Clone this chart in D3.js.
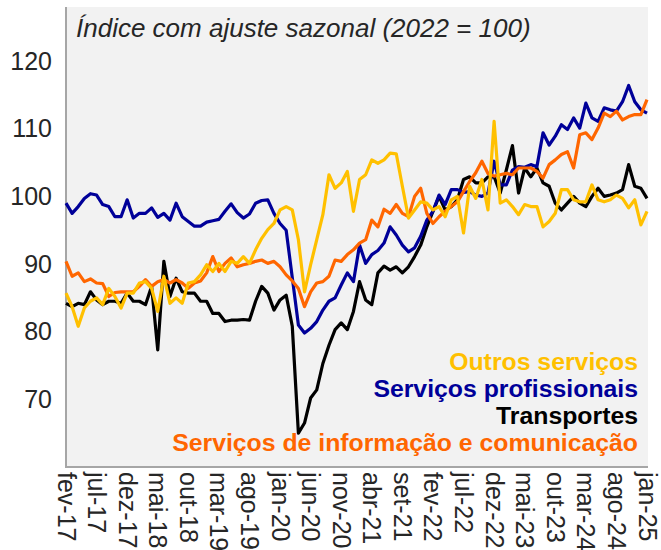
<!DOCTYPE html>
<html>
<head>
<meta charset="utf-8">
<script src="https://cdn.jsdelivr.net/npm/d3@7"></script>
<style>
  html, body { margin: 0; padding: 0; background: #ffffff; }
  svg { display: block; font-family: "Liberation Sans", Arial, sans-serif; }
</style>
</head>
<body>
<svg id="chart" width="661" height="550"></svg>
<script>
// ---- Data (monthly, fev-2017 .. jan-2025) ----
const tickLabels = ["fev-17","jul-17","dez-17","mai-18","out-18","mar-19","ago-19","jan-20","jun-20","nov-20",
                    "abr-21","set-21","fev-22","jul-22","dez-22","mai-23","out-23","mar-24","ago-24","jan-25"];
const yTicks = [70, 80, 90, 100, 110, 120];

const seriesNames = ["Outros serviços", "Serviços profissionais", "Transportes", "Serviços de informação e comunicação"];

const outros = [85.7,83.7,80.8,83.5,84.5,85.0,84.0,86.4,85.2,83.5,85.7,85.7,87.2,87.4,86.4,83.0,88.2,84.2,85.0,84.2,
  87.2,87.4,88.4,89.9,88.9,90.1,88.9,90.4,90.1,91.1,90.1,92.1,93.8,95.1,96.0,98.0,98.5,98.0,93.6,85.9,
  89.9,93.6,97.3,103.2,101.2,102.0,103.7,97.8,102.5,103.2,105.4,104.9,105.4,106.4,106.3,101.5,96.8,98.0,99.2,99.0,
  98.0,98.5,97.0,99.5,100.0,94.6,101.5,99.7,102.5,98.0,111.1,99.0,99.5,98.5,97.3,98.8,98.5,98.5,95.5,96.3,
  97.5,101.0,101.0,99.5,99.2,99.2,101.7,99.5,99.2,99.5,100.2,99.7,98.3,99.5,95.8,97.8];

const profissionais = [99.0,97.5,98.5,99.7,100.4,100.2,98.8,98.5,97.0,97.0,99.5,96.8,97.5,97.5,98.3,96.9,97.5,96.5,99.0,97.0,
  96.3,95.6,95.6,96.2,96.4,96.6,97.8,98.9,97.6,96.8,97.4,99.0,99.4,99.5,97.5,96.0,95.0,88.0,81.0,79.8,
  80.5,81.5,83.2,84.5,85.0,86.9,88.7,87.4,92.8,90.1,91.4,92.0,93.1,95.5,94.3,92.8,91.8,92.4,94.1,96.5,
  97.8,100.2,98.8,101.0,101.0,100.6,100.7,100.2,100.0,100.5,105.2,101.7,101.7,103.9,104.4,104.3,104.7,104.4,109.4,107.6,
  108.9,110.6,109.9,111.6,110.1,113.8,111.6,111.1,113.1,112.8,112.6,114.0,116.4,114.0,112.8,112.3];

const transportes = [84.2,83.7,84.2,84.0,85.9,84.7,84.0,84.5,84.5,84.2,85.7,84.5,84.5,84.0,86.7,77.3,90.4,85.2,87.9,85.9,
  85.7,85.7,84.5,84.5,82.7,82.7,81.5,81.7,81.7,81.8,81.7,84.5,86.7,85.7,83.2,84.7,85.4,80.8,65.0,66.5,
  70.2,71.4,75.3,78.0,80.3,81.3,80.3,83.0,87.4,84.7,84.0,88.7,89.7,89.1,89.6,88.7,89.6,91.1,92.8,95.5,
  97.8,100.0,98.0,98.5,99.5,102.5,102.9,102.0,102.0,102.9,102.9,100.5,103.9,107.5,100.5,104.2,102.9,104.2,102.0,101.5,
  99.0,98.0,99.0,100.0,99.0,98.5,100.0,101.2,100.0,100.2,100.5,101.0,104.7,101.5,101.2,99.7];

const informacao = [90.4,88.2,88.7,87.4,87.8,87.2,87.1,85.2,85.8,85.9,85.9,85.9,86.7,87.7,86.7,87.4,87.7,87.2,87.7,87.2,
  86.4,87.2,87.5,88.7,91.1,88.9,90.1,90.9,89.6,89.9,90.1,90.4,90.6,90.1,90.4,89.6,88.4,87.5,86.4,83.7,
  85.9,87.2,87.4,88.2,90.6,90.4,91.4,92.1,93.1,93.6,96.5,95.5,98.1,97.5,98.8,97.5,97.0,100.0,101.2,97.5,
  96.0,97.0,97.8,98.5,99.2,100.7,102.2,103.5,105.2,103.4,103.0,103.2,103.4,103.2,104.2,104.2,104.2,103.7,102.7,104.7,
  105.4,106.2,106.6,104.2,109.1,109.4,108.4,110.1,112.3,111.8,112.6,111.3,111.8,112.1,112.1,114.3];

const seriesColors = ["#FFC000", "#000099", "#000000", "#FF6600"];

// ---- Layout ----
const svg = d3.select("#chart");
const plot = { left: 66, right: 648, top: 7, bottom: 467 };
const n = outros.length;

const x = d3.scaleLinear().domain([0, n - 1]).range([plot.left, plot.right - 1]);
const y = d3.scaleLinear().domain([60, 128]).range([plot.bottom, plot.top]);

// background
svg.append("rect")
  .attr("x", plot.left).attr("y", plot.top)
  .attr("width", plot.right - plot.left).attr("height", plot.bottom - plot.top)
  .attr("fill", "#f2f2f2");

// title
svg.append("text")
  .attr("x", 76).attr("y", 37)
  .attr("font-size", 26).attr("font-style", "italic").attr("fill", "#262626")
  .text("Índice com ajuste sazonal (2022 = 100)");

// y axis
const yAxis = d3.axisLeft(y).tickValues(yTicks).tickSize(0).tickPadding(14);
const gy = svg.append("g").attr("transform", `translate(${plot.left},0)`).call(yAxis);
gy.select(".domain").remove();
gy.selectAll("text").attr("font-size", 25).attr("fill", "#262626").attr("font-family", "Liberation Sans, Arial, sans-serif");

// x axis
const tickIdx = tickLabels.map((d, i) => i * 5);
const xAxis = d3.axisBottom(x).tickValues(tickIdx).tickSize(0).tickFormat((d, i) => tickLabels[i]);
const gx = svg.append("g").attr("transform", `translate(0,${plot.bottom})`).call(xAxis);
gx.select(".domain").remove();
gx.selectAll("text")
  .attr("font-size", 25).attr("fill", "#262626").attr("font-family", "Liberation Sans, Arial, sans-serif")
  .attr("text-anchor", "start")
  .attr("dy", null)
  .attr("y", 0)
  .attr("transform", "translate(0,5) rotate(90) translate(0,9)");

// axis lines
svg.append("line").attr("x1", plot.left).attr("x2", plot.left).attr("y1", plot.top).attr("y2", plot.bottom + 1)
  .attr("stroke", "#a6a6a6").attr("stroke-width", 2);
svg.append("line").attr("x1", plot.left).attr("x2", plot.right).attr("y1", plot.bottom).attr("y2", plot.bottom)
  .attr("stroke", "#a6a6a6").attr("stroke-width", 2);

// lines
const line = d3.line().x((d, i) => x(i)).y(d => y(d));
const allSeries = [outros, profissionais, transportes, informacao];
const drawOrder = [2, 1, 3, 0];
drawOrder.forEach(k => {
  svg.append("path")
    .datum(allSeries[k])
    .attr("fill", "none")
    .attr("stroke", seriesColors[k])
    .attr("stroke-width", 3.2)
    .attr("stroke-linejoin", "round")
    .attr("d", line);
});

// legend
const legendY = [370, 397, 424, 451];
seriesNames.forEach((name, k) => {
  svg.append("text")
    .attr("x", 638).attr("y", legendY[k])
    .attr("text-anchor", "end")
    .attr("font-size", 24.8).attr("font-weight", "bold")
    .attr("fill", seriesColors[k])
    .text(name);
});
</script>
</body>
</html>
